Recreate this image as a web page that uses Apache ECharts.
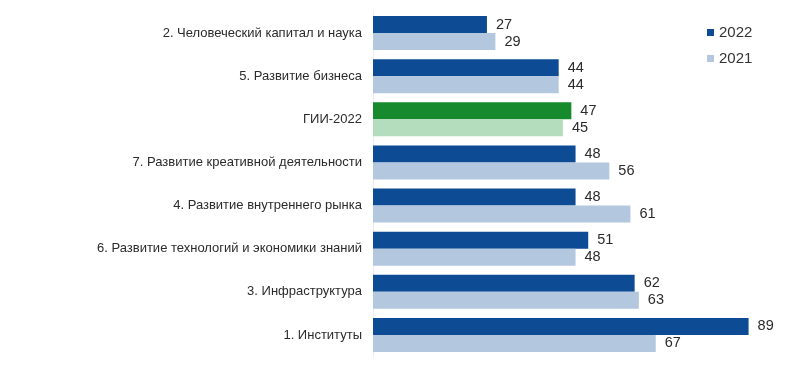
<!DOCTYPE html>
<html>
<head>
<meta charset="utf-8">
<script src="https://cdn.jsdelivr.net/npm/echarts@6/dist/echarts.min.js"></script>
<style>
  html, body { margin: 0; padding: 0; background: #fff; }
  #chart { width: 795px; height: 370px; }
</style>
</head>
<body>
<div id="chart"></div>
<script>
const categories = [
  '2. Человеческий капитал и наука',
  '5. Развитие бизнеса',
  'ГИИ-2022',
  '7. Развитие креативной деятельности',
  '4. Развитие внутреннего рынка',
  '6. Развитие технологий и экономики знаний',
  '3. Инфраструктура',
  '1. Институты'
]
const values2022 = [27, 44, 47, 48, 48, 51, 62, 89]
const values2021 = [29, 44, 45, 56, 61, 48, 63, 67]
const highlightName = 'ГИИ-2022'

const dark = '#0d4b94'
const light = '#b3c7df'
const darkGreen = '#168a2d'
const lightGreen = '#b3ddbd'

function withHighlight(arr, color) {
  return arr.map((v, i) => categories[i] === highlightName
    ? { value: v, itemStyle: { color: color } }
    : v)
}

const labelStyle = {
  show: true,
  position: 'right',
  distance: 9,
  color: '#2b2b2b',
  fontSize: 14.5,
  fontFamily: 'Liberation Sans, Arial, sans-serif'
}

const chart = echarts.init(document.getElementById('chart'))
chart.setOption({
  animation: false,
  textStyle: { fontFamily: 'Liberation Sans, Arial, sans-serif' },
  legend: {
    orient: 'vertical',
    left: 702,
    top: 20,
    itemGap: 11,
    itemWidth: 7,
    itemHeight: 7,
    icon: 'rect',
    textStyle: { color: '#333', fontSize: 15 },
    data: ['2022', '2021']
  },
  grid: {
    left: 373,
    top: 11.5,
    width: 426,
    height: 345
  },
  xAxis: {
    type: 'value',
    min: 0,
    max: 100,
    show: false
  },
  yAxis: {
    type: 'category',
    inverse: true,
    data: categories,
    axisLine: { show: true, lineStyle: { color: '#ececec' } },
    axisTick: { show: false },
    axisLabel: {
      color: '#2b2b2b',
      fontSize: 13,
      margin: 11
    }
  },
  series: [
    {
      name: '2022',
      type: 'bar',
      itemStyle: { color: dark },
      barGap: '0%',
      barCategoryGap: '21%',
      label: labelStyle,
      data: withHighlight(values2022, darkGreen)
    },
    {
      name: '2021',
      type: 'bar',
      itemStyle: { color: light },
      barGap: '0%',
      barCategoryGap: '21%',
      label: labelStyle,
      data: withHighlight(values2021, lightGreen)
    }
  ]
})
</script>
</body>
</html>
